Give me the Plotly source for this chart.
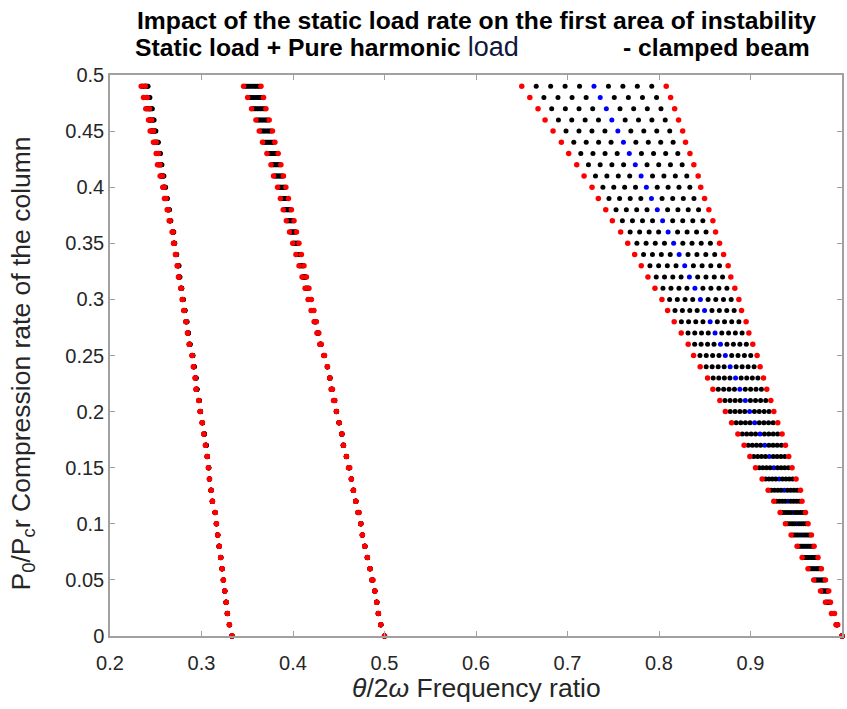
import numpy as np
import plotly.graph_objects as go

# Static load rate P0/Pcr (one row of sampled points per value)
load_rate = [0.00, 0.01, 0.02, 0.03, 0.04, 0.05, 0.06, 0.07, 0.08, 0.09,
             0.10, 0.11, 0.12, 0.13, 0.14, 0.15, 0.16, 0.17, 0.18, 0.19,
             0.20, 0.21, 0.22, 0.23, 0.24, 0.25, 0.26, 0.27, 0.28, 0.29,
             0.30, 0.31, 0.32, 0.33, 0.34, 0.35, 0.36, 0.37, 0.38, 0.39,
             0.40, 0.41, 0.42, 0.43, 0.44, 0.45, 0.46, 0.47, 0.48, 0.49]

# Principal (first) instability region around theta/2w = 1: lower / upper boundaries
main_lower = [1.0000, 0.9935, 0.9885, 0.9819, 0.9765, 0.9691, 0.9629, 0.9564, 0.9509, 0.9444,
              0.9382, 0.9324, 0.9255, 0.9193, 0.9127, 0.9055, 0.8993, 0.8930, 0.8862, 0.8793,
              0.8725, 0.8665, 0.8589, 0.8531, 0.8450, 0.8378, 0.8319, 0.8243, 0.8166, 0.8094,
              0.8032, 0.7956, 0.7879, 0.7806, 0.7734, 0.7658, 0.7581, 0.7490, 0.7418, 0.7337,
              0.7268, 0.7181, 0.7101, 0.7013, 0.6933, 0.6842, 0.6755, 0.6678, 0.6588, 0.6500]
main_upper = [1.0000, 0.9953, 0.9918, 0.9874, 0.9855, 0.9819, 0.9775, 0.9738, 0.9695, 0.9666,
              0.9629, 0.9601, 0.9563, 0.9546, 0.9498, 0.9454, 0.9418, 0.9382, 0.9345, 0.9298,
              0.9255, 0.9222, 0.9178, 0.9142, 0.9105, 0.9072, 0.9025, 0.8982, 0.8952, 0.8902,
              0.8873, 0.8829, 0.8785, 0.8756, 0.8706, 0.8662, 0.8618, 0.8589, 0.8545, 0.8498,
              0.8456, 0.8428, 0.8381, 0.8338, 0.8290, 0.8259, 0.8214, 0.8171, 0.8127, 0.8079]

# Second region around theta/2w = 1/2
second_lower = [0.5000, 0.4959, 0.4933, 0.4915, 0.4894, 0.4860, 0.4842, 0.4813, 0.4785, 0.4758,
                0.4741, 0.4708, 0.4686, 0.4660, 0.4638, 0.4606, 0.4584, 0.4551, 0.4534, 0.4504,
                0.4475, 0.4443, 0.4417, 0.4403, 0.4376, 0.4336, 0.4293, 0.4262, 0.4231, 0.4198,
                0.4165, 0.4132, 0.4099, 0.4066, 0.4032, 0.3997, 0.3962, 0.3927, 0.3893, 0.3862,
                0.3831, 0.3787, 0.3759, 0.3715, 0.3667, 0.3631, 0.3595, 0.3547, 0.3504, 0.3460]
second_upper = [0.5000, 0.4959, 0.4933, 0.4915, 0.4894, 0.4874, 0.4842, 0.4813, 0.4785, 0.4758,
                0.4741, 0.4722, 0.4686, 0.4660, 0.4638, 0.4620, 0.4584, 0.4551, 0.4534, 0.4504,
                0.4475, 0.4457, 0.4431, 0.4403, 0.4376, 0.4344, 0.4309, 0.4282, 0.4255, 0.4228,
                0.4201, 0.4174, 0.4147, 0.4120, 0.4092, 0.4065, 0.4038, 0.4011, 0.3983, 0.3950,
                0.3922, 0.3896, 0.3868, 0.3838, 0.3802, 0.3776, 0.3740, 0.3704, 0.3678, 0.3650]

# Third region around theta/2w = 1/3: lower boundary, boundary gap, extent of unstable samples
third_lower = [0.3333, 0.3305, 0.3283, 0.3269, 0.3254, 0.3239, 0.3225, 0.3210, 0.3193, 0.3177,
               0.3163, 0.3149, 0.3119, 0.3105, 0.3087, 0.3076, 0.3062, 0.3044, 0.3025, 0.3007,
               0.2985, 0.2970, 0.2941, 0.2931, 0.2912, 0.2896, 0.2865, 0.2846, 0.2828, 0.2806,
               0.2789, 0.2773, 0.2748, 0.2734, 0.2715, 0.2694, 0.2679, 0.2647, 0.2625, 0.2595,
               0.2577, 0.2548, 0.2519, 0.2505, 0.2475, 0.2439, 0.2421, 0.2391, 0.2366, 0.2341]
third_gap = [0, 0, 0, 0, 0, 0, 0, 0, 0, 0,
             0, 0, 0, 0, 0, 0, 0, 0, 0, 0,
             0, 0, 0, 0, 0, 0.0004, 0.0004, 0.0005, 0.0005, 0.0006,
             0.0006, 0.0006, 0.0007, 0.0008, 0.0007, 0.0008, 0.0010, 0.0010, 0.0014, 0.0018,
             0.0016, 0.0024, 0.0028, 0.0026, 0.0030, 0.0036, 0.0034, 0.0040, 0.0040, 0.0044]
third_span = [0, 0, 0, 0, 0, 0, 0, 0, 0, 0,
              0, 0, 0, 0, 0, 0.0004, 0.0004, 0.0010, 0.0010, 0.0006,
              0.0006, 0.0008, 0.0012, 0.0012, 0.0010, 0.0011, 0.0012, 0.0014, 0.0015, 0.0016,
              0.0015, 0.0013, 0.0018, 0.0022, 0.0016, 0.0015, 0.0020, 0.0020, 0.0028, 0.0036,
              0.0034, 0.0046, 0.0054, 0.0052, 0.0060, 0.0070, 0.0068, 0.0080, 0.0078, 0.0083]

x_ticks = [0.2, 0.3, 0.4, 0.5, 0.6, 0.7, 0.8, 0.9, 1.0]
x_tick_text = ["0.2", "0.3", "0.4", "0.5", "0.6", "0.7", "0.8", "0.9", "1"]
y_ticks = [0, 0.05, 0.1, 0.15, 0.2, 0.25, 0.3, 0.35, 0.4, 0.45, 0.5]
y_tick_text = ["0", "0.05", "0.1", "0.15", "0.2", "0.25", "0.3", "0.35", "0.4", "0.45", "0.5"]

N_SAMPLES = 11          # samples per row: 2 boundaries + 9 unstable points
MID = N_SAMPLES // 2

red_x, red_y = [], []
blk_x, blk_y = [], []
blu_x, blu_y = [], []


def add_row(y, lo, hi, in_lo, in_hi):
    red_x.extend([lo, hi]); red_y.extend([y, y])
    pts = np.linspace(in_lo, in_hi, N_SAMPLES)
    for k in range(1, N_SAMPLES - 1):
        if k == MID:
            blu_x.append(pts[k]); blu_y.append(y)
        else:
            blk_x.append(pts[k]); blk_y.append(y)


for i, a in enumerate(load_rate):
    add_row(a, main_lower[i], main_upper[i], main_lower[i], main_upper[i])
    add_row(a, second_lower[i], second_upper[i], second_lower[i], second_upper[i])
    lo = third_lower[i]
    add_row(a, lo, lo + third_gap[i], lo, lo + third_span[i])

fig = go.Figure()
# drawing order: centre samples, other unstable samples, then the boundaries on top
for xs, ys, col, sz in [(blu_x, blu_y, "#0000ff", 5), (blk_x, blk_y, "#000000", 5),
                        (red_x, red_y, "#ff0000", 5.5)]:
    fig.add_trace(go.Scatter(x=xs, y=ys, mode="markers", cliponaxis=False,
                             marker=dict(color=col, size=sz, line=dict(width=0)),
                             showlegend=False, hoverinfo="skip"))

axis_style = dict(showline=True, mirror="ticks", linecolor="#a0a0a0", linewidth=1.5,
                  ticks="inside", ticklen=5, tickcolor="#a0a0a0", tickwidth=1,
                  showgrid=False, zeroline=False,
                  tickfont=dict(family="Liberation Sans, Arial", size=20, color="#262626"))

fig.update_layout(
    width=847, height=709,
    margin=dict(l=110, r=3, t=75, b=73),
    paper_bgcolor="white", plot_bgcolor="white",
    font=dict(family="Liberation Sans, Arial", color="#262626"),
    xaxis=dict(range=[0.2, 1.0], tickvals=x_ticks, ticktext=x_tick_text,
               ticklabelstandoff=8, **axis_style),
    yaxis=dict(range=[0, 0.5], tickvals=y_ticks, ticktext=y_tick_text,
               ticklabelstandoff=0, **axis_style),
)

title_font = dict(family="Liberation Sans, Arial", size=24.7, color="#000000")
fig.add_annotation(text="<b>Impact of the static load rate on the first area of instability</b>",
                   xref="paper", yref="paper", x=0.5, y=1, yshift=55,
                   xanchor="center", yanchor="middle", showarrow=False, font=title_font)
fig.add_annotation(text="<b>Static load + Pure harmonic </b>"
                        "<span style='color:#10183a;font-size:27px'>load</span>",
                   xref="paper", yref="paper", x=0, xshift=23, y=1, yshift=28,
                   xanchor="left", yanchor="middle", showarrow=False, font=title_font)
fig.add_annotation(text="<b>- clamped beam</b>",
                   xref="paper", yref="paper", x=1, xshift=-30, y=1, yshift=28,
                   xanchor="right", yanchor="middle", showarrow=False, font=title_font)

label_font = dict(family="Liberation Sans, Arial", size=26.5, color="#262626")
fig.add_annotation(text="<i>θ</i>/2<i>ω</i> Frequency ratio",
                   xref="paper", yref="paper", x=0.5, y=0, yshift=-52,
                   xanchor="center", yanchor="middle", showarrow=False, font=label_font)
fig.add_annotation(text="P<sub>0</sub>/P<sub>c</sub>r Compression rate of the column",
                   xref="paper", yref="paper", x=0, xshift=-88, y=0.5, yshift=-8,
                   xanchor="center", yanchor="middle", textangle=-90,
                   showarrow=False, font=label_font)

fig.write_html("out.html")
